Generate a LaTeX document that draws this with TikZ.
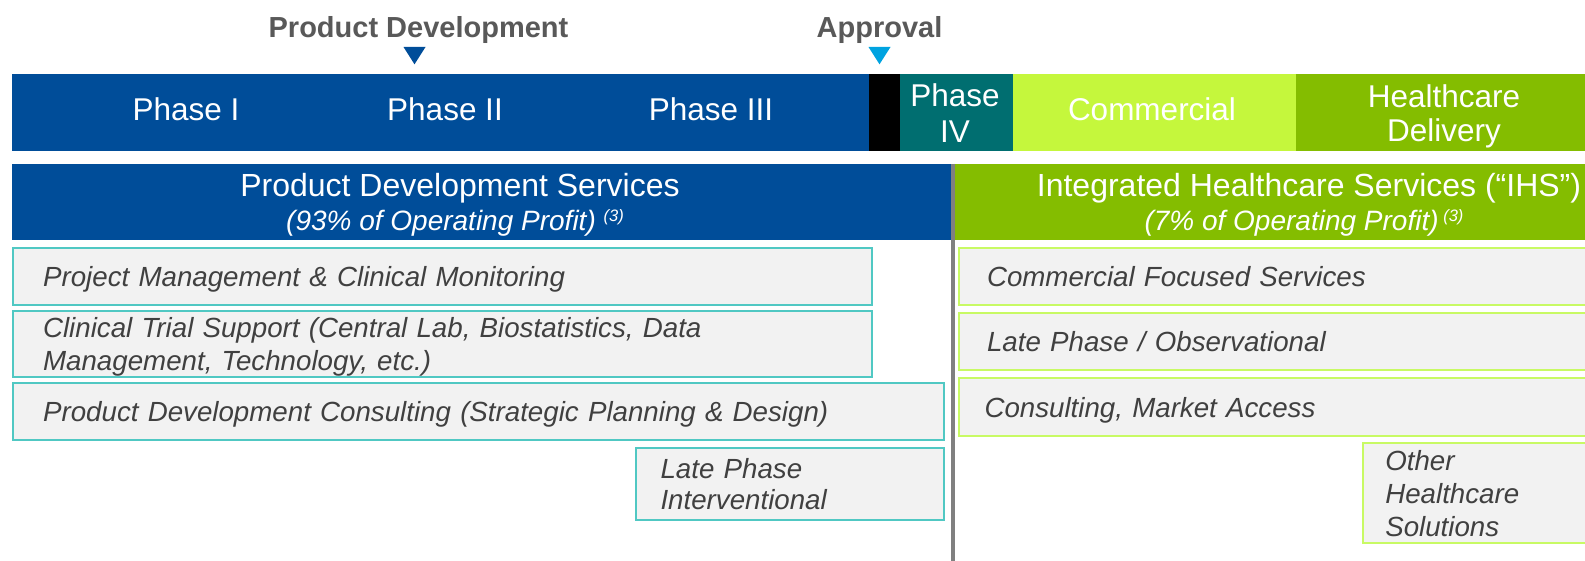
\documentclass[tikz,border=0pt]{standalone}
\usepackage{fontspec}
\setmainfont{Liberation Sans}
\definecolor{pdblue}{RGB}{0,77,153}
\definecolor{tealfour}{RGB}{0,110,112}
\definecolor{limeg}{RGB}{197,247,60}
\definecolor{grn}{RGB}{132,189,0}
\definecolor{cyantri}{RGB}{0,163,224}
\definecolor{titlegray}{RGB}{89,89,89}
\definecolor{boxgray}{RGB}{242,242,242}
\definecolor{tealb}{RGB}{80,200,195}
\definecolor{limeb}{RGB}{200,250,100}
\definecolor{divgray}{RGB}{128,128,128}
\definecolor{boxtext}{RGB}{64,64,64}
\newcommand{\supnote}[1]{\raisebox{9pt}{\fontsize{16.5}{16.5}\selectfont #1}}
\begin{document}
\begin{tikzpicture}[x=1pt,y=-1pt,
  seg/.style={anchor=north west, inner sep=0, outer sep=0, minimum height=76.8},
  band/.style={anchor=north west, inner sep=0, outer sep=0, minimum height=75.8},
  bartext/.style={text=white, font=\fontsize{31.5}{35}\selectfont, inner sep=0},
  headtext/.style={text=white, font=\fontsize{32}{36}\selectfont, inner sep=0, anchor=base},
  subtext/.style={text=white, font=\fontsize{28}{32}\selectfont\itshape, inner sep=0, anchor=base},
  toptitle/.style={text=titlegray, font=\fontsize{29}{32}\selectfont\bfseries, inner sep=0, anchor=base},
  lbox/.style={draw=tealb, fill=boxgray, line width=2, anchor=north west, inner xsep=30, inner ysep=0,
    align=left, text=boxtext, font=\fontsize{27.7}{32.5}\selectfont\itshape},
  rbox/.style={lbox, draw=limeb}
]
\clip (0,0) rectangle (1585,561);
\fill[white] (0,0) rectangle (1585,561);

% top titles and markers
\node[toptitle] (pdtitle) at (418.5,37.5) {Product Development};
\node[toptitle] (aptitle) at (879.5,37.5) {Approval};
\fill[pdblue] (403.5,47) -- (425.5,47) -- (414.5,64.3) -- cycle;
\fill[cyantri] (868.5,47) -- (890.5,47) -- (879.5,64.3) -- cycle;

% phase bar
\node[seg, fill=pdblue, minimum width=857.2] (blue) at (12.1,73.8) {};
\node[seg, fill=black, minimum width=30.8] (blk) at (869.1,73.8) {};
\node[seg, fill=tealfour, minimum width=113.4] (p4) at (899.9,73.8) {};
\node[seg, fill=limeg, minimum width=282.3] (comm) at (1013.3,73.8) {};
\node[seg, fill=grn, minimum width=300] (hd) at (1295.6,73.8) {};

\node[bartext, anchor=base] (ph1) at (186,121) {Phase I};
\node[bartext, anchor=base] (ph2) at (445,121) {Phase II};
\node[bartext, anchor=base] (ph3) at (711,121) {Phase III};
\node[bartext, align=center, font=\fontsize{31.5}{35.5}\selectfont] (ph4) at (955,113) {Phase\\IV};
\node[bartext, align=center, font=\fontsize{31.5}{33.5}\selectfont] (hdt) at (1444,116.5) {Healthcare\\Delivery};
\node[bartext, anchor=base] (cmt) at (1152,121) {Commercial};

% service bands
\node[band, fill=pdblue, minimum width=938.7] (pds) at (12.1,163.8) {};
\node[band, fill=grn, minimum width=640] (ihs) at (955,163.8) {};
\node[headtext] (pdst) at (460,196.5) {Product Development Services};
\node[subtext] (pdss) at (455,231) {(93\% of Operating Profit) \supnote{(3)}};
\node[headtext] (ihst) at (1309,196.5) {Integrated Healthcare Services (“IHS”)};
\node[subtext] (ihss) at (1304,231) {(7\% of Operating Profit)\,\supnote{(3)}};

% divider
\coordinate (dtop) at (953,163.8);
\coordinate (dbot) at (953,561);
\draw[line width=4, divgray] (dtop) -- (dbot);

% left boxes
\node[lbox, text depth=0pt, minimum width=859, text width=799, minimum height=57.7] (l1) at (12.1,246.6)
  {Project Management \& Clinical Monitoring};
\node[lbox, text depth=32.5pt, minimum width=859, text width=799, minimum height=65.7] (l2) at (12.1,310.3)
  {Clinical Trial Support (Central Lab, Biostatistics, Data\\Management, Technology, etc.)};
\node[lbox, text depth=0pt, minimum width=931, text width=871, minimum height=57.6] (l3) at (12.1,381.7)
  {Product Development Consulting (Strategic Planning \& Design)};
\node[lbox, inner xsep=25, minimum width=308.5, text width=258.5, minimum height=72,
  font=\fontsize{27.7}{31.3}\selectfont\itshape] (l4) at (634.5,447.3)
  {Late Phase\\Interventional};

% right boxes
\node[rbox, inner xsep=28, minimum width=660, text width=604, minimum height=57.6] (r1) at (958,246.7)
  {Commercial Focused Services};
\node[rbox, inner xsep=28, minimum width=660, text width=604, minimum height=57.6] (r2) at (958,311.7)
  {Late Phase / Observational};
\node[rbox, text depth=0pt, inner xsep=25.5, minimum width=660, text width=609, minimum height=57.7] (r3) at (958,377.3)
  {Consulting, Market Access};
\node[rbox, inner xsep=22, minimum width=260, text width=216, minimum height=100,
  font=\fontsize{27.7}{33}\selectfont\itshape] (r4) at (1362.3,442.3)
  {Other\\Healthcare\\Solutions};
\end{tikzpicture}
\end{document}
